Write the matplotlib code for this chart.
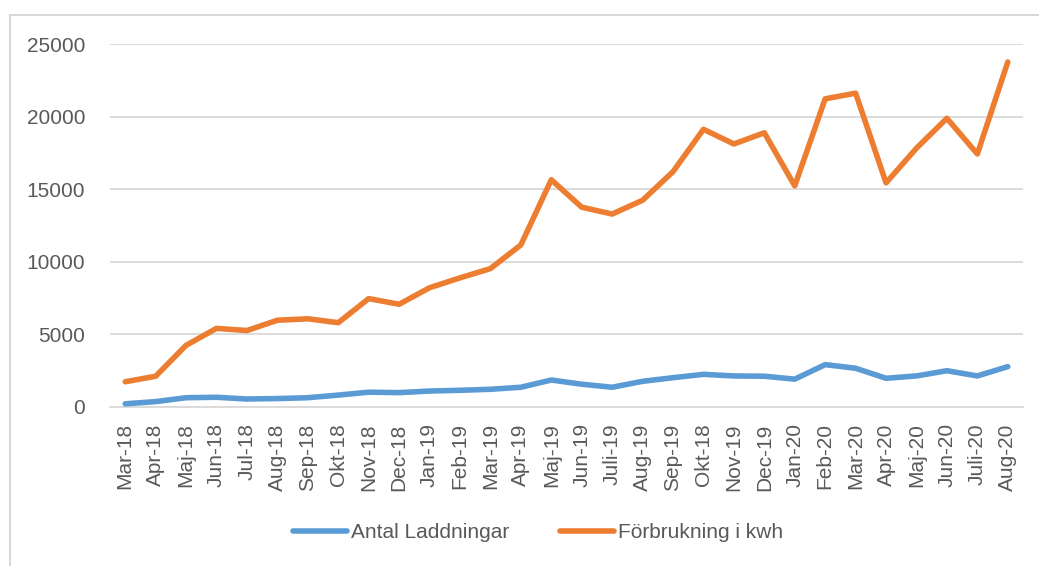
import matplotlib
matplotlib.use("Agg")
import matplotlib.pyplot as plt
from matplotlib.patches import Rectangle

months = ["Mar-18", "Apr-18", "Maj-18", "Jun-18", "Jul-18", "Aug-18", "Sep-18", "Okt-18",
          "Nov-18", "Dec-18", "Jan-19", "Feb-19", "Mar-19", "Apr-19", "Maj-19", "Jun-19",
          "Juli-19", "Aug-19", "Sep-19", "Okt-18", "Nov-19", "Dec-19", "Jan-20", "Feb-20",
          "Mar-20", "Apr-20", "Maj-20", "Jun-20", "Juli-20", "Aug-20"]

antal_laddningar = [200, 350, 620, 650, 530, 560, 620, 800, 1000, 970, 1080, 1130, 1200, 1340,
                    1840, 1550, 1340, 1750, 2000, 2230, 2120, 2100, 1900, 2900, 2650, 1960,
                    2120, 2480, 2120, 2760]

forbrukning_kwh = [1720, 2100, 4230, 5400, 5250, 5960, 6060, 5790, 7450, 7060, 8200, 8880,
                   9520, 11150, 15640, 13750, 13280, 14230, 16200, 19120, 18110, 18880,
                   15220, 21220, 21610, 15430, 17820, 19880, 17420, 23760]

yticks = [0, 5000, 10000, 15000, 20000, 25000]

W, H = 1039, 566
fig = plt.figure(figsize=(W / 100, H / 100), dpi=100)
plt.rcParams['font.family'] = ['Liberation Sans', 'DejaVu Sans']

txt = "#595959"
grid = "#D9D9D9"

ax = fig.add_axes([110 / W, 1 - 406.7 / H, (1023 - 110) / W, (406.7 - 44) / H])
x = list(range(len(months)))
ax.plot(x, antal_laddningar, color="#5B9BD5", lw=4, solid_joinstyle="round",
        solid_capstyle="round", label="Antal Laddningar", zorder=3)
ax.plot(x, forbrukning_kwh, color="#ED7D31", lw=4, solid_joinstyle="round",
        solid_capstyle="round", label="Förbrukning i kwh", zorder=3)

ax.set_xlim(-0.5, len(months) - 0.5)
ax.set_ylim(0, 25000)
ax.set_yticks(yticks)
ax.set_yticklabels([str(v) for v in yticks])
ax.set_xticks(x)
ax.set_xticklabels(months, rotation=90)
ax.yaxis.grid(True, color=grid, lw=1.3)
ax.set_axisbelow(True)
for s in ["top", "right", "left"]:
    ax.spines[s].set_visible(False)
ax.spines["bottom"].set_color(grid)
ax.spines["bottom"].set_linewidth(1.3)
ax.tick_params(axis="both", length=0, colors=txt, labelsize=15)
ax.tick_params(axis="x", pad=12)
ax.tick_params(axis="y", pad=18)
ax.patch.set_alpha(0)

leg = fig.legend(loc="center", bbox_to_anchor=(538 / W, 1 - 533 / H), ncol=2,
                 frameon=False, fontsize=15, handlelength=2.6, columnspacing=2.4,
                 handletextpad=0.2)
for t in leg.get_texts():
    t.set_color(txt)

fig.add_artist(Rectangle((10 / W, -0.2), 2, 1.2 - 15 / H, transform=fig.transFigure,
                         fill=False, edgecolor=grid, lw=1.5))

fig.savefig("out.png", dpi=100)
